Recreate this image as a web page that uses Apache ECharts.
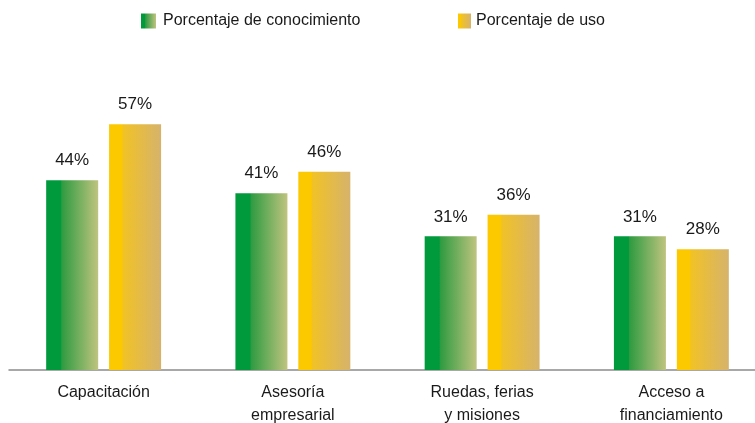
<!DOCTYPE html>
<html lang="es">
<head>
    <meta charset="UTF-8">
    <title>Conocimiento y uso</title>
    <script src="https://cdn.jsdelivr.net/npm/echarts@6.0.0/dist/echarts.min.js"></script>
    <style>
        html, body { margin: 0; padding: 0; background: #fff; }
        #main { width: 755px; height: 423px; }
    </style>
</head>
<body>
    <div id="main"></div>
    <script type="text/javascript">
        // datos
        const categorias = ['Capacitación', 'Asesoría\nempresarial', 'Ruedas, ferias\ny misiones', 'Acceso a\nfinanciamiento'];
        const conocimiento = [44, 41, 31, 31];
        const uso = [57, 46, 36, 28];
        const nombres = ['Porcentaje de conocimiento', 'Porcentaje de uso'];

        const fuente = '"Liberation Sans", Arial, sans-serif';

        const verde = new echarts.graphic.LinearGradient(0, 0, 1, 0, [
            { offset: 0, color: '#009a3d' },
            { offset: 0.28, color: '#009a3d' },
            { offset: 0.3, color: '#2f9b41' },
            { offset: 1, color: '#bfc47f' }
        ]);
        const amarillo = new echarts.graphic.LinearGradient(0, 0, 1, 0, [
            { offset: 0, color: '#fcc800' },
            { offset: 0.25, color: '#fcc800' },
            { offset: 0.27, color: '#f1c226' },
            { offset: 1, color: '#d6b36b' }
        ]);

        var grafico = echarts.init(document.getElementById('main'));
        var etiqueta = {
            show: true,
            position: 'top',
            distance: 11,
            color: '#1a1a1a',
            fontSize: 17,
            fontFamily: fuente,
            formatter: p => p.value + '%'
        };
        var option = {
            animation: false,
            legend: [
                {
                    data: [nombres[0]], left: 141, top: 13, padding: 0,
                    itemWidth: 15, itemHeight: 15, icon: 'rect',
                    textStyle: { fontSize: 16, fontFamily: fuente, color: '#1a1a1a', padding: [0, 0, 0, 2] }
                },
                {
                    data: [nombres[1]], left: 458, top: 13, padding: 0,
                    itemWidth: 13, itemHeight: 15, icon: 'rect',
                    textStyle: { fontSize: 16, fontFamily: fuente, color: '#1a1a1a', padding: [0, 0, 0, 0] }
                }
            ],
            grid: { left: 9, right: -11, top: 25, bottom: 53, outerBoundsMode: 'none', containLabel: false },
            xAxis: {
                type: 'category',
                data: categorias,
                axisLine: { lineStyle: { color: '#8c8c8c', width: 1.5 } },
                axisTick: { show: false },
                axisLabel: {
                    margin: 11,
                    color: '#1a1a1a',
                    fontSize: 16,
                    lineHeight: 23,
                    fontFamily: fuente,
                    interval: 0
                }
            },
            yAxis: { type: 'value', min: 0, max: 80, show: false, splitLine: { show: false } },
            series: [
                {
                    name: nombres[0], type: 'bar', data: conocimiento,
                    barWidth: 52, barGap: '21%',
                    itemStyle: { color: verde },
                    label: etiqueta
                },
                {
                    name: nombres[1], type: 'bar', data: uso,
                    barWidth: 52,
                    itemStyle: { color: amarillo },
                    label: etiqueta
                }
            ]
        };
        grafico.setOption(option);
    </script>
</body>
</html>
